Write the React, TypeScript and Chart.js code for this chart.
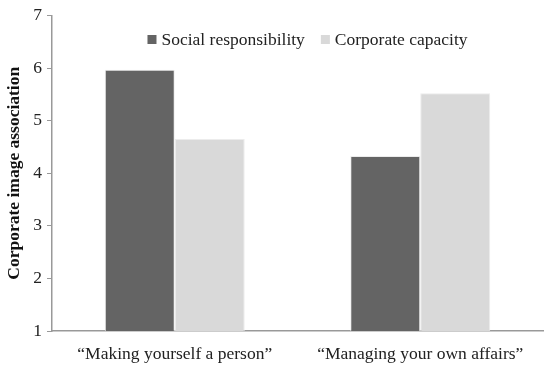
import React, { useEffect, useRef } from "react";
import { Chart, registerables } from "chart.js";

Chart.register(...registerables);

const categories = ["\u201cMaking yourself a person\u201d", "\u201cManaging your own affairs\u201d"];
const socialResponsibility = [5.97, 4.33];
const corporateCapacity = [4.65, 5.52];
const seriesNames = ["Social responsibility", "Corporate capacity"];
const seriesColors = ["#646464", "#d9d9d9"];
const yTicks = [1, 2, 3, 4, 5, 6, 7];

const SERIF = "'Liberation Serif', 'Times New Roman', serif";
const FS = 17.5;

const insideLegend = {
  id: "insideLegend",
  afterDatasetsDraw(chart: any) {
    const { ctx, chartArea } = chart;
    ctx.save();
    ctx.font = `${FS}px ${SERIF}`;
    ctx.textBaseline = "middle";
    const box = 9;
    const gapBoxText = 5;
    const gapItems = 16;
    const items = chart.data.datasets.map((d: any) => ({
      label: d.label as string,
      color: d.backgroundColor as string,
      w: box + gapBoxText + ctx.measureText(d.label).width,
    }));
    const total = items.reduce((s: number, it: any) => s + it.w, 0) + gapItems * (items.length - 1);
    let x = (chartArea.left + chartArea.right) / 2 + 10 - total / 2;
    const y = chartArea.top + 24;
    for (const it of items) {
      ctx.fillStyle = it.color;
      ctx.fillRect(x, y - box / 2, box, box);
      ctx.fillStyle = "#222";
      ctx.fillText(it.label, x + box + gapBoxText, y + 1);
      x += it.w + gapItems;
    }
    ctx.restore();
  },
};

export default function App() {
  const ref = useRef<HTMLCanvasElement>(null);
  useEffect(() => {
    if (!ref.current) return;
    const chart = new Chart(ref.current, {
      type: "bar",
      data: {
        labels: categories,
        datasets: [
          {
            label: seriesNames[0],
            data: socialResponsibility,
            backgroundColor: seriesColors[0],
            borderColor: "#ececec",
            borderWidth: 1,
            categoryPercentage: 0.57,
            barPercentage: 1,
          },
          {
            label: seriesNames[1],
            data: corporateCapacity,
            backgroundColor: seriesColors[1],
            borderColor: "#ececec",
            borderWidth: 1,
            categoryPercentage: 0.57,
            barPercentage: 1,
          },
        ],
      },
      plugins: [insideLegend],
      options: {
        animation: false,
        responsive: false,
        maintainAspectRatio: false,
        layout: { padding: { top: 7, right: 7, left: 0, bottom: 0 } },
        plugins: {
          tooltip: { enabled: false },
          legend: { display: false },
        },
        scales: {
          x: {
            afterFit: (axis: any) => {
              axis.height = 40;
            },
            grid: { display: false, drawTicks: false },
            border: { color: "#999", width: 1.5 },
            ticks: {
              font: { family: SERIF, size: FS },
              color: "#222",
              padding: 13,
              maxRotation: 0,
            },
          },
          y: {
            min: 1,
            max: 7,
            afterFit: (axis: any) => {
              axis.width = 52;
            },
            afterBuildTicks: (axis: any) => {
              axis.ticks = yTicks.map((v) => ({ value: v }));
            },
            grid: {
              display: true,
              drawOnChartArea: false,
              drawTicks: true,
              tickLength: 5,
              color: "#999",
            },
            border: { color: "#999", width: 1.5 },
            ticks: {
              font: { family: SERIF, size: FS },
              color: "#222",
              padding: 5,
            },
            title: {
              display: true,
              text: "Corporate image association",
              font: { family: SERIF, size: FS, weight: "bold" },
              color: "#111",
              padding: { top: 4, bottom: 5 },
            },
          },
        },
      },
    });
    return () => chart.destroy();
  }, []);
  return (
    <div style={{ position: "fixed", left: 0, top: 0, width: 550, height: 371, background: "#fff" }}>
      <canvas ref={ref} width={550} height={371} />
    </div>
  );
}
